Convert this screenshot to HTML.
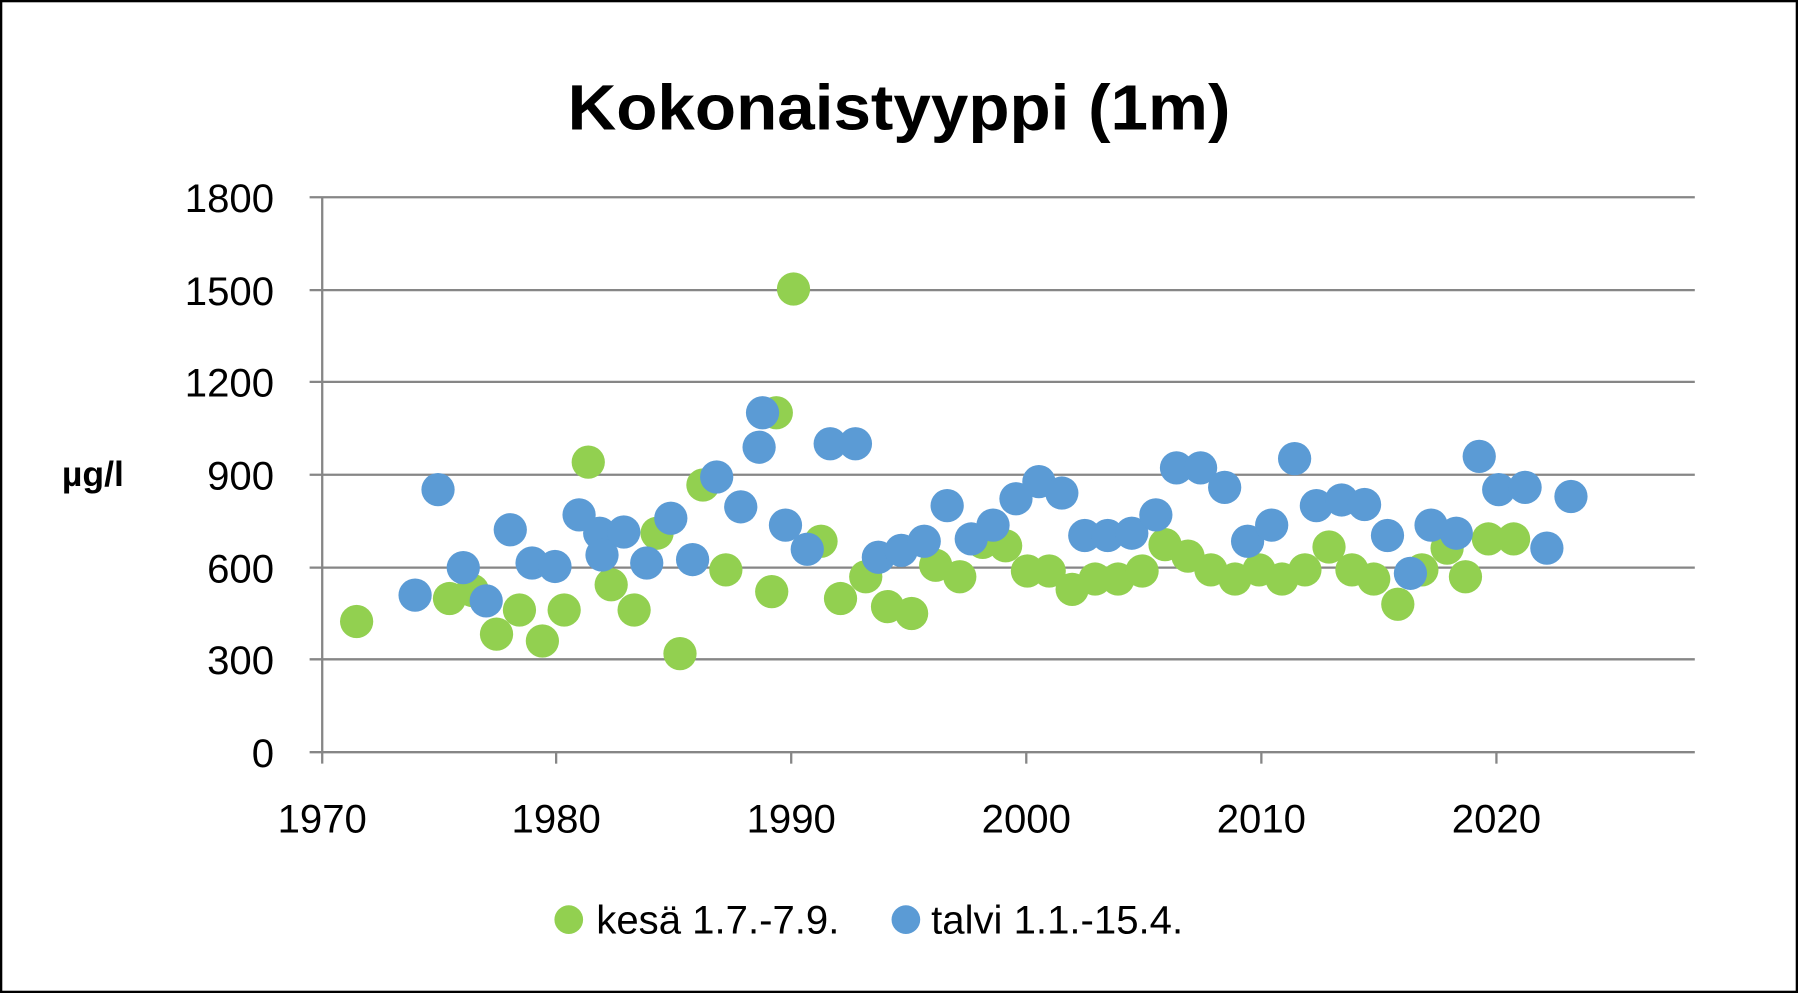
<!DOCTYPE html>
<html><head><meta charset="utf-8"><style>
html,body{margin:0;padding:0;background:#fff;}
svg{display:block}
text{font-family:"Liberation Sans",sans-serif;fill:#000}
</style></head><body>
<svg width="1798" height="993" viewBox="0 0 1568 866" preserveAspectRatio="none">
<rect x="1" y="1" width="1566" height="864" fill="#fff" stroke="#000" stroke-width="2"/>
<text x="784" y="113" text-anchor="middle" font-size="56" font-weight="bold" textLength="578" lengthAdjust="spacingAndGlyphs">Kokonaistyyppi (1m)</text>
<g stroke="#868686" stroke-width="2">
<line x1="270" y1="172" x2="1478" y2="172"/>
<line x1="270" y1="253" x2="1478" y2="253"/>
<line x1="270" y1="333" x2="1478" y2="333"/>
<line x1="270" y1="414" x2="1478" y2="414"/>
<line x1="270" y1="495" x2="1478" y2="495"/>
<line x1="270" y1="575" x2="1478" y2="575"/>
<line x1="270" y1="656" x2="1478" y2="656"/>
<line x1="281" y1="172" x2="281" y2="666"/>
<line x1="485" y1="656" x2="485" y2="666"/>
<line x1="690" y1="656" x2="690" y2="666"/>
<line x1="895" y1="656" x2="895" y2="666"/>
<line x1="1100" y1="656" x2="1100" y2="666"/>
<line x1="1305" y1="656" x2="1305" y2="666"/>
</g>
<g font-size="35" text-anchor="end">
<text x="239" y="185">1800</text><text x="239" y="266">1500</text><text x="239" y="346">1200</text>
<text x="239" y="427">900</text><text x="239" y="508">600</text><text x="239" y="588">300</text><text x="239" y="669">0</text>
</g>
<g font-size="35" text-anchor="middle">
<text x="281" y="726">1970</text><text x="485" y="726">1980</text><text x="690" y="726">1990</text>
<text x="895" y="726">2000</text><text x="1100" y="726">2010</text><text x="1305" y="726">2020</text>
</g>
<text x="81" y="424" font-size="31" font-weight="bold" text-anchor="middle">µg/l</text>
<g fill="#92d050">
<circle cx="311" cy="542" r="14.5"/><circle cx="392" cy="522" r="14.5"/><circle cx="412" cy="515" r="14.5"/><circle cx="433" cy="553" r="14.5"/><circle cx="453" cy="532" r="14.5"/><circle cx="473" cy="559" r="14.5"/><circle cx="492" cy="532" r="14.5"/><circle cx="513" cy="403" r="14.5"/><circle cx="533" cy="510" r="14.5"/><circle cx="553" cy="532" r="14.5"/><circle cx="573" cy="465" r="14.5"/><circle cx="593" cy="570" r="14.5"/><circle cx="613" cy="423" r="14.5"/><circle cx="633" cy="497" r="14.5"/><circle cx="673" cy="516" r="14.5"/><circle cx="677" cy="360" r="14.5"/><circle cx="692" cy="252" r="14.5"/><circle cx="716" cy="472" r="14.5"/><circle cx="733" cy="522" r="14.5"/><circle cx="755" cy="503" r="14.5"/><circle cx="774" cy="529" r="14.5"/><circle cx="795" cy="535" r="14.5"/><circle cx="816" cy="493" r="14.5"/><circle cx="837" cy="503" r="14.5"/><circle cx="857" cy="473" r="14.5"/><circle cx="877" cy="476" r="14.5"/><circle cx="896" cy="498" r="14.5"/><circle cx="915" cy="498" r="14.5"/><circle cx="935" cy="514" r="14.5"/><circle cx="955" cy="505" r="14.5"/><circle cx="975" cy="505" r="14.5"/><circle cx="996" cy="498" r="14.5"/><circle cx="1016" cy="475" r="14.5"/><circle cx="1036" cy="485" r="14.5"/><circle cx="1056" cy="497" r="14.5"/><circle cx="1077" cy="505" r="14.5"/><circle cx="1098" cy="497" r="14.5"/><circle cx="1118" cy="505" r="14.5"/><circle cx="1138" cy="497" r="14.5"/><circle cx="1159" cy="477" r="14.5"/><circle cx="1179" cy="497" r="14.5"/><circle cx="1198" cy="505" r="14.5"/><circle cx="1219" cy="527" r="14.5"/><circle cx="1240" cy="497" r="14.5"/><circle cx="1262" cy="478" r="14.5"/><circle cx="1278" cy="503" r="14.5"/><circle cx="1298" cy="470" r="14.5"/><circle cx="1320" cy="470" r="14.5"/>
</g>
<g fill="#5b9bd5">
<circle cx="362" cy="519" r="14.5"/><circle cx="382" cy="427" r="14.5"/><circle cx="404" cy="495" r="14.5"/><circle cx="424" cy="524" r="14.5"/><circle cx="445" cy="462" r="14.5"/><circle cx="464" cy="491" r="14.5"/><circle cx="484" cy="494" r="14.5"/><circle cx="505" cy="449" r="14.5"/><circle cx="523" cy="465" r="14.5"/><circle cx="525" cy="484" r="14.5"/><circle cx="544" cy="464" r="14.5"/><circle cx="564" cy="491" r="14.5"/><circle cx="585" cy="452" r="14.5"/><circle cx="604" cy="488" r="14.5"/><circle cx="625" cy="416" r="14.5"/><circle cx="646" cy="442" r="14.5"/><circle cx="665" cy="360" r="14.5"/><circle cx="662" cy="390" r="14.5"/><circle cx="685" cy="458" r="14.5"/><circle cx="704" cy="479" r="14.5"/><circle cx="724" cy="387" r="14.5"/><circle cx="746" cy="387" r="14.5"/><circle cx="766" cy="486" r="14.5"/><circle cx="786" cy="480" r="14.5"/><circle cx="806" cy="472" r="14.5"/><circle cx="826" cy="441" r="14.5"/><circle cx="847" cy="470" r="14.5"/><circle cx="866" cy="458" r="14.5"/><circle cx="886" cy="435" r="14.5"/><circle cx="906" cy="420" r="14.5"/><circle cx="926" cy="430" r="14.5"/><circle cx="946" cy="467" r="14.5"/><circle cx="966" cy="467" r="14.5"/><circle cx="987" cy="465" r="14.5"/><circle cx="1008" cy="449" r="14.5"/><circle cx="1026" cy="408" r="14.5"/><circle cx="1047" cy="408" r="14.5"/><circle cx="1068" cy="425" r="14.5"/><circle cx="1088" cy="472" r="14.5"/><circle cx="1109" cy="458" r="14.5"/><circle cx="1129" cy="400" r="14.5"/><circle cx="1148" cy="441" r="14.5"/><circle cx="1170" cy="436" r="14.5"/><circle cx="1190" cy="440" r="14.5"/><circle cx="1210" cy="467" r="14.5"/><circle cx="1230" cy="500" r="14.5"/><circle cx="1248" cy="458" r="14.5"/><circle cx="1270" cy="465" r="14.5"/><circle cx="1290" cy="398" r="14.5"/><circle cx="1307" cy="427" r="14.5"/><circle cx="1330" cy="425" r="14.5"/><circle cx="1349" cy="478" r="14.5"/><circle cx="1370" cy="433" r="14.5"/>
</g>
<circle cx="496" cy="802" r="12.5" fill="#92d050"/>
<text x="520" y="814" font-size="35">kesä 1.7.-7.9.</text>
<circle cx="790" cy="802" r="12.5" fill="#5b9bd5"/>
<text x="812" y="814" font-size="35">talvi 1.1.-15.4.</text>
</svg>
</body></html>
